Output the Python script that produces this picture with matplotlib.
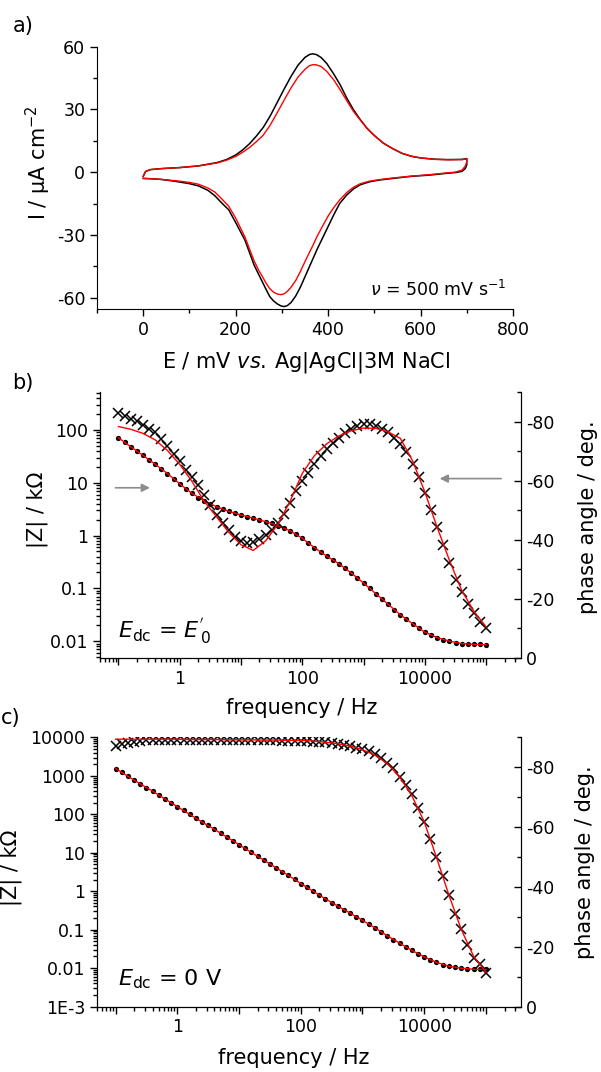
import numpy as np
import matplotlib
matplotlib.use('Agg')
import matplotlib.pyplot as plt
from matplotlib.ticker import FixedLocator, FuncFormatter, MultipleLocator, LogLocator, NullFormatter

plt.rcParams['font.family'] = 'DejaVu Sans'
plt.rcParams['mathtext.fontset'] = 'dejavusans'
plt.rcParams['axes.unicode_minus'] = False

# ---- panel a: cyclic voltammograms (E in mV, I in uA cm^-2) ----
e_up = [0, 5, 15, 40, 80, 120, 160, 180, 200, 215, 230, 245, 260, 275, 290, 305,
        320, 335, 350, 360, 367, 375, 385, 397, 412, 426, 440, 455, 470, 484,
        500, 520, 540, 560, 580, 600, 630, 660, 690, 700]
i_up_black = [-2.0, 0.3, 1.2, 1.7, 2.2, 3.0, 4.6, 6.0, 8.2, 10.6, 13.6, 17.3, 21.5,
              27.0, 33.4, 39.8, 45.9, 51.2, 54.9, 56.3, 56.6, 56.2, 54.8, 52.0, 47.0,
              41.8, 35.6, 29.8, 25.0, 21.0, 17.5, 13.8, 11.2, 9.0, 7.6, 6.8, 6.2,
              6.0, 6.1, 6.5]
i_up_red = [-2.0, 0.3, 1.2, 1.7, 2.2, 3.0, 4.4, 5.7, 7.5, 9.5, 11.8, 14.6, 17.8,
            22.6, 28.5, 34.5, 40.4, 45.5, 49.2, 51.0, 51.4, 51.3, 50.5, 48.2, 44.2,
            39.4, 34.3, 29.0, 24.8, 21.0, 17.5, 13.8, 11.2, 9.0, 7.6, 6.8, 6.1,
            5.9, 6.0, 6.3]

e_dn = [700, 697, 690, 675, 650, 620, 580, 540, 510, 490, 470, 455, 440, 425, 412,
        400, 388, 376, 365, 352, 340, 330, 320, 312, 305, 298, 290, 282, 274, 266,
        258, 250, 240, 230, 220, 210, 200, 185, 170, 155, 140, 120, 100, 70, 40, 20, 0]
i_dn_black = [3.5, 1.8, 0.4, -0.2, -0.7, -1.4, -2.0, -3.0, -3.8, -4.6, -6.0, -8.0,
              -11.0, -15.0, -20.5, -26.0, -31.5, -37.0, -42.5, -49.0, -55.0, -59.2,
              -62.3, -63.8, -64.3, -64.0, -63.0, -61.6, -59.6, -56.2, -52.6, -49.0,
              -44.5, -38.5, -32.5, -28.3, -24.1, -18.0, -14.8, -11.3, -8.7, -6.6,
              -5.5, -4.4, -3.5, -3.2, -3.0]
i_dn_red = [5.0, 3.0, 1.0, 0.0, -0.5, -1.2, -1.9, -2.8, -3.6, -4.3, -5.5, -7.2,
            -9.8, -13.3, -17.0, -21.0, -25.8, -30.8, -36.0, -41.8, -47.5, -51.8,
            -55.0, -57.0, -58.2, -58.6, -58.3, -57.4, -55.8, -53.2, -50.0, -47.0,
            -42.5, -36.8, -31.0, -26.5, -22.0, -16.3, -12.8, -9.5, -7.6, -5.8,
            -4.9, -4.1, -3.5, -3.2, -3.0]

# ---- panels b, c: impedance spectra ----
freq = [0.1, 0.126, 0.158, 0.2, 0.251, 0.316, 0.398, 0.501, 0.631, 0.794,
        1, 1.26, 1.58, 2, 2.51, 3.16, 3.98, 5.01, 6.31, 7.94,
        10, 12.6, 15.8, 20, 25.1, 31.6, 39.8, 50.1, 63.1, 79.4,
        100, 126, 158, 200, 251, 316, 398, 501, 631, 794,
        1000, 1260, 1580, 2000, 2510, 3160, 3980, 5010, 6310, 7940,
        10000, 12600, 15800, 20000, 25100, 31600, 39800, 50100, 63100, 79400,
        100000]
freq_fit = [0.1, 0.158, 0.251, 0.398, 0.631, 1, 1.58, 2.51, 3.98, 6.31,
            10, 15.8, 25.1, 39.8, 63.1, 100, 158, 251, 398, 631,
            1000, 1580, 2510, 3980, 6310, 10000, 15800, 25100, 39800, 63100, 100000]

# b) E_dc = E'0
z_b = [71.4, 58.9, 48.4, 39.8, 33.1, 27.5, 22.4, 18.4, 15.0, 12.0,
       9.55, 7.59, 6.31, 5.25, 4.57, 3.98, 3.52, 3.16, 2.88, 2.63,
       2.45, 2.29, 2.14, 2.00, 1.84, 1.70, 1.55, 1.41, 1.23, 1.05,
       0.891, 0.724, 0.589, 0.490, 0.407, 0.343, 0.292, 0.240, 0.195, 0.158,
       0.126, 0.100, 0.0794, 0.0631, 0.0501, 0.0398, 0.0316, 0.0260, 0.0214, 0.0174,
       0.0148, 0.0132, 0.0117, 0.0107, 0.0100, 0.0094, 0.0090, 0.0088, 0.0087, 0.00865,
       0.0086]
ph_b = [-82.8, -81.9, -81.0, -80.1, -79.0, -77.6, -76.3, -74.0, -71.7, -68.9,
        -66.6, -63.7, -61.3, -58.6, -55.2, -51.8, -48.4, -45.8, -43.3, -41.0,
        -39.7, -39.0, -39.3, -40.1, -41.6, -43.3, -45.6, -48.8, -52.4, -56.4,
        -60.0, -62.6, -65.5, -68.3, -70.8, -72.8, -74.5, -76.0, -77.4, -78.5,
        -79.1, -79.1, -78.5, -77.4, -76.3, -74.5, -72.3, -69.6, -65.8, -61.3,
        -55.8, -50.1, -44.4, -38.2, -32.2, -26.5, -22.3, -18.3, -15.1, -12.1,
        -10.2]
z_b_fit = [71.4, 48.4, 33.1, 22.4, 15.0, 9.55, 6.31, 4.57, 3.52, 2.88,
           2.45, 2.14, 1.84, 1.55, 1.23, 0.891, 0.589, 0.407, 0.292, 0.195,
           0.126, 0.0794, 0.0501, 0.0316, 0.0214, 0.0148, 0.0117, 0.0100, 0.0090, 0.0087, 0.0086]
ph_b_fit = [-78.3, -77.4, -76.0, -73.8, -70.2, -65.5, -59.8, -53.0, -47.8, -42.5,
            -38.3, -36.4, -39.6, -45.2, -53.0, -62.5, -68.5, -72.5, -75.2, -76.9,
            -77.8, -77.7, -76.5, -74.3, -66.7, -56.1, -44.3, -33.1, -22.9, -15.8, -10.5]

# c) E_dc = 0 V
z_c = [1549, 1230, 977, 776, 617, 490, 398, 316, 251, 200,
       158, 126, 100, 79.4, 63.1, 51.3, 40.7, 32.4, 25.7, 20.4,
       16.2, 12.9, 10.2, 8.13, 6.46, 5.13, 4.07, 3.24, 2.57, 2.04,
       1.58, 1.26, 1.00, 0.794, 0.631, 0.501, 0.407, 0.331, 0.269, 0.219,
       0.174, 0.141, 0.112, 0.0871, 0.0692, 0.0550, 0.0447, 0.0355, 0.0288, 0.0234,
       0.0195, 0.0162, 0.0141, 0.0123, 0.0112, 0.0105, 0.0099, 0.0095, 0.0093, 0.0093,
       0.0093]
ph_c = [-87.1, -87.8, -88.2, -88.6, -88.9, -89.1, -89.1, -89.2, -89.2, -89.2,
        -89.2, -89.2, -89.2, -89.2, -89.2, -89.2, -89.2, -89.2, -89.2, -89.1,
        -89.1, -89.1, -89.1, -89.0, -89.0, -89.0, -89.0, -88.9, -88.9, -88.9,
        -88.8, -88.8, -88.6, -88.6, -88.4, -88.1, -87.9, -87.5, -87.0, -86.5,
        -86.0, -85.3, -84.3, -83.1, -81.6, -79.7, -76.8, -74.2, -71.0, -66.4,
        -61.8, -56.0, -49.9, -43.6, -37.3, -31.0, -25.8, -20.6, -16.3, -14.1,
        -11.3]
z_c_fit = [1549, 977, 617, 398, 251, 158, 100, 63.1, 40.7, 25.7,
           16.2, 10.2, 6.46, 4.07, 2.57, 1.58, 1.00, 0.631, 0.407, 0.269,
           0.174, 0.112, 0.0692, 0.0447, 0.0288, 0.0195, 0.0141, 0.0112, 0.0099, 0.0093, 0.0093]
ph_c_fit = [-89.4, -89.4, -89.4, -89.4, -89.4, -89.4, -89.3, -89.3, -89.3, -89.2,
            -89.2, -89.2, -89.1, -89.1, -89.0, -89.0, -88.8, -88.4, -87.9, -87.1,
            -85.9, -84.1, -81.3, -76.8, -70.5, -61.8, -49.9, -37.3, -25.8, -16.8, -11.5]

W, H = 601, 1072
fig = plt.figure(figsize=(W / 100, H / 100), dpi=100)


def box(l, t, r, b):
    return [l / W, 1 - b / H, (r - l) / W, (b - t) / H]


TICK = 12.5
LAB = 15

# ---------------- panel a ----------------
ax = fig.add_axes(box(97, 46.7, 513, 309.3))
ax.plot(e_up + e_dn, i_up_black + i_dn_black, color='black', lw=1.1)
ax.plot(e_up + e_dn, i_up_red + i_dn_red, color='red', lw=1.0)
ax.set_xlim(-100, 800)
ax.set_ylim(-65.6, 60)
ax.xaxis.set_major_locator(MultipleLocator(200))
ax.xaxis.set_minor_locator(MultipleLocator(100))
ax.yaxis.set_major_locator(MultipleLocator(30))
ax.yaxis.set_minor_locator(MultipleLocator(15))
for s in ['top', 'right']:
    ax.spines[s].set_visible(False)
ax.tick_params(which='major', direction='out', length=5, width=1, labelsize=TICK)
ax.tick_params(which='minor', direction='out', length=3, width=1)
ax.set_ylabel('I / μA cm$^{-2}$', fontsize=LAB)
ax.yaxis.set_label_coords(-0.106, 0.56)
ax.set_xlabel(r'E / mV $\it{vs.}\,$Ag|AgCl|3M NaCl', fontsize=LAB)
ax.xaxis.set_label_coords(0.502, -0.155)
ax.text(0.985, 0.049, r'$\nu$ = 500 mV s$^{-1}$', transform=ax.transAxes,
        ha='right', va='baseline', fontsize=12.5)


def freq_axis(ax):
    ax.set_xscale('log')
    ax.set_xlim(0.05, 3.7e5)
    ax.xaxis.set_major_locator(FixedLocator([0.1, 1, 10, 100, 1000, 1e4, 1e5]))
    ax.xaxis.set_major_formatter(FuncFormatter(
        lambda v, p: {1: '1', 100: '100', 10000: '10000'}.get(int(round(v)), '') if v >= 1 else ''))
    ax.xaxis.set_minor_locator(LogLocator(base=10, subs=np.arange(2, 10), numticks=20))
    ax.xaxis.set_minor_formatter(NullFormatter())


def log_y(ax, lo, hi, ticks, labels):
    ax.set_yscale('log')
    ax.set_ylim(lo, hi)
    ax.yaxis.set_major_locator(FixedLocator(ticks))
    ax.yaxis.set_major_formatter(FuncFormatter(
        lambda v, p: labels[int(np.argmin(np.abs(np.log10(ticks) - np.log10(v))))]))
    ax.yaxis.set_minor_locator(LogLocator(base=10, subs=np.arange(2, 10), numticks=20))
    ax.yaxis.set_minor_formatter(NullFormatter())


def eis_panel(rect, z, ph, zf, phf, ylo, yhi, yt, ylbl):
    ax = fig.add_axes(rect)
    ax.plot(freq, z, 'o', color='black', ms=3.8, mew=0, zorder=2)
    ax.plot(freq_fit, zf, '-', color='red', lw=1.0, zorder=3)
    freq_axis(ax)
    log_y(ax, ylo, yhi, yt, ylbl)
    ax.spines['top'].set_visible(False)
    ax.tick_params(which='major', direction='out', length=5, width=1, labelsize=TICK)
    ax.tick_params(which='minor', direction='out', length=3, width=1)
    ax.set_ylabel('|Z| / kΩ', fontsize=LAB)
    ax.set_xlabel('frequency / Hz', fontsize=LAB)

    axr = ax.twinx()
    axr.plot(freq, ph, 'x', color='black', ms=7, mew=1.1, zorder=2)
    axr.plot(freq_fit, phf, '-', color='red', lw=1.0, zorder=3)
    axr.set_ylim(0, -90)
    axr.yaxis.set_major_locator(FixedLocator([0, -20, -40, -60, -80]))
    axr.yaxis.set_minor_locator(FixedLocator([-10, -30, -50, -70, -90]))
    axr.spines['top'].set_visible(False)
    axr.tick_params(axis='y', which='major', direction='in', length=5, width=1, labelsize=TICK)
    axr.tick_params(axis='y', which='minor', direction='in', length=3, width=1)
    axr.set_ylabel('phase angle / deg.', fontsize=LAB)
    return ax, axr


# ---------------- panel b ----------------
axb, axbr = eis_panel(box(100, 392, 521, 658), z_b, ph_b, z_b_fit, ph_b_fit,
                      0.0048, 525, [0.01, 0.1, 1, 10, 100],
                      ['0.01', '0.1', '1', '10', '100'])
axb.yaxis.set_label_coords(-0.1235, 0.556)
axbr.yaxis.set_label_coords(1.135, 0.53)
axb.xaxis.set_label_coords(0.48, -0.15)
axb.text(0.043, 0.074, r"$E_{\mathrm{dc}}$ = $E^{'}_{\,0}$", transform=axb.transAxes,
         ha='left', va='baseline', fontsize=16)
axb.annotate('', xy=(0.363, 8.05), xytext=(0.0805, 8.05),
             arrowprops=dict(arrowstyle='-|>', color='#8c8c8c', lw=1.2, mutation_scale=12))
axbr.annotate('', xy=(1.57e4, -60.7), xytext=(1.95e5, -60.7),
              arrowprops=dict(arrowstyle='-|>', color='#8c8c8c', lw=1.2, mutation_scale=12))

# ---------------- panel c ----------------
axc, axcr = eis_panel(box(97, 737.4, 521, 1006.5), z_c, ph_c, z_c_fit, ph_c_fit,
                      1e-3, 1e4, [1e-3, 0.01, 0.1, 1, 10, 100, 1000, 10000],
                      ['1E-3', '0.01', '0.1', '1', '10', '100', '1000', '10000'])
axc.yaxis.set_label_coords(-0.177, 0.515)
axcr.yaxis.set_label_coords(1.127, 0.537)
axc.xaxis.set_label_coords(0.463, -0.154)
axc.text(0.05, 0.08, r"$E_{\mathrm{dc}}$ = 0 V", transform=axc.transAxes,
         ha='left', va='baseline', fontsize=16)

# panel letters
fig.text(13 / W, 1 - 32 / H, 'a)', fontsize=LAB, va='baseline')
fig.text(12 / W, 1 - 389 / H, 'b)', fontsize=LAB, va='baseline')
fig.text(1 / W, 1 - 724 / H, 'c)', fontsize=LAB, va='baseline')

fig.savefig('out.png', dpi=100)
